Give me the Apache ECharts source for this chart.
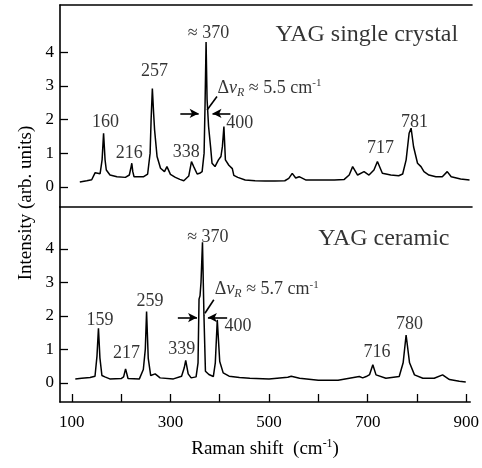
<!DOCTYPE html>
<html><head><meta charset="utf-8">
<script src="https://cdn.jsdelivr.net/npm/echarts@6/dist/echarts.min.js"></script>
<style>html,body{margin:0;padding:0;background:#fff}#c{width:482px;height:468px}</style>
</head><body><div id="c"></div>
<script>
// ---- data: YAG single crystal (top) ----
const shiftTop = [116,130,140,147,150,157,161,164,167,169.5,177,191,208,216,219,221,223,225.5,235,245,253,258,260,262.5,265,267,272,279,287,292,299,309,318,326,336,341.5,346,353,358,363,367,369,371,373,376,380,383,389,396,401,404,407,410,417,424,427,435,450,470,490,510,530,538,545,552,559,566,573,590,610,630,650,660,667,677,690,700,710,717,727,744,760,768,775,781,785,790,798,805,811,821,835,848,858,866,885,903];
const intensityTop = [0.14,0.18,0.21,0.42,0.45,0.39,0.8,1.59,0.8,0.5,0.35,0.3,0.28,0.35,0.55,0.70,0.45,0.3,0.3,0.3,0.38,1.0,2.0,2.92,2.2,1.69,0.9,0.55,0.45,0.6,0.37,0.28,0.22,0.18,0.32,0.75,0.6,0.38,0.4,0.45,1.0,2.5,4.3,2.6,1.8,1.2,0.7,0.6,0.8,0.9,1.2,1.79,0.8,0.64,0.54,0.34,0.28,0.2,0.18,0.17,0.17,0.18,0.25,0.4,0.26,0.3,0.25,0.2,0.2,0.2,0.2,0.22,0.35,0.6,0.35,0.45,0.35,0.5,0.75,0.4,0.35,0.33,0.38,0.8,1.59,1.74,1.19,0.7,0.6,0.45,0.35,0.3,0.3,0.45,0.3,0.23,0.2];
// ---- data: YAG ceramic (bottom) ----
const shiftBot = [107,120,137,147,151,154,157,161,167,177,200,205,209,214,237,245,249,251.6,255,260,269,279,306,322.6,328,331,336,342,352,356,358,360,362,365,368,371,378,387,391,395,400,407,419,440,461,500,538,545,562,600,640,683,690,697,704,710.5,717,737,764,772,778,785,795,812,835,852,866,886,899];
const intensityBot = [0.12,0.14,0.16,0.2,0.8,1.63,0.74,0.22,0.18,0.12,0.13,0.18,0.42,0.13,0.12,0.4,1.0,2.13,0.73,0.22,0.27,0.15,0.12,0.2,0.45,0.67,0.27,0.15,0.18,0.6,2.5,2.6,3.0,4.2,2.0,0.35,0.25,0.19,0.6,1.88,0.64,0.3,0.2,0.16,0.14,0.12,0.17,0.2,0.14,0.08,0.08,0.19,0.15,0.19,0.25,0.54,0.24,0.14,0.19,0.6,1.43,0.6,0.24,0.14,0.14,0.24,0.1,0.05,0.03];
// ---- tick values ----
const xTicks = [100,200,300,400,500,600,700,800,900];
const xTickLabels = [100,300,500,700,900];
const yTicks = [0,1,2,3,4];
// ---- annotations (text, shift, intensity) ----
const peakLabelsTop = ['160','216','257','338','400','717','781'];
const peakLabelTopX = [168,216,267,331,439,723,792];
const peakLabelTopY = [1.93,1.0,3.42,1.04,1.89,1.13,1.91];
const peakLabelsBot = ['159','217','259','339','400','716','780'];
const peakLabelBotX = [157,211,258.5,323,437,719,785];
const peakLabelBotY = [1.88,0.87,2.43,0.99,1.68,0.9,1.76];
const mainPeakTop = [376, 4.56], mainPeakBot = [376, 4.36];
const widthTop = '5.5', widthBot = '5.7';
const widthLabelTop = [394, 2.93], widthLabelBot = [390, 2.78];
const arrowsTop = [[319,356,2.18],[420,384,2.18]];
const arrowsBot = [[315,354,1.95],[415,376,1.95]];
const leaderTop = [[373,2.28],[393,2.68]];
const leaderBot = [[370,2.08],[388,2.48]];
const panelTitles = ['YAG single crystal','YAG ceramic'];
const panelTitlePos = [[880,4.53],[866,4.3]];

const FONT = 'Liberation Serif';
const XMIN = 76, XMAX = 908;
const chart = echarts.init(document.getElementById('c'), null, {renderer:'canvas'});
const axisLine = {show:true, onZero:false, lineStyle:{color:'#000', width:1.6}};

function xAxisDef(gi, bottom){
  return {type:'value', gridIndex:gi, min:XMIN, max:XMAX, position:'bottom',
    axisLine: axisLine, splitLine:{show:false},
    axisTick: bottom ? {show:true, inside:true, length:8, lineStyle:{color:'#000',width:1.3}, customValues:xTicks} : {show:false},
    axisLabel: bottom ? {show:true, customValues:xTickLabels, margin:12, color:'#000', fontFamily:FONT, fontSize:17} : {show:false},
    name: bottom ? '{a|Raman shift  (cm}{s|-1}{a|)}' : '', nameLocation:'middle', nameGap:36,
    nameTextStyle:{rich:{a:{fontFamily:FONT,fontSize:19,color:'#000'}, s:{fontFamily:FONT,fontSize:12,color:'#000',verticalAlign:'top',padding:[0,0,10,0]}}}
  };
}
function yAxisDef(gi, min, max){
  return {type:'value', gridIndex:gi, min:min, max:max, axisLine:axisLine, splitLine:{show:false},
    axisTick:{show:true, inside:true, length:8, lineStyle:{color:'#000',width:1.3}, customValues:yTicks},
    axisLabel:{show:true, customValues:yTicks, margin:6, color:'#000', fontFamily:FONT, fontSize:17}};
}
function textSeries(gi, items, fontSize, align){
  return {type:'scatter', xAxisIndex:gi===0?0:2, yAxisIndex:gi, symbolSize:0, silent:true,
    data: items.map(it => ({value:[it[1], it[2]], name:it[0]})),
    label:{show:true, position:'inside', formatter:p=>p.name, color:'#000', fontFamily:FONT, fontSize:fontSize, align:align||'center', verticalAlign:'middle'}};
}
function widthSeries(gi, pos, w){
  return {type:'scatter', xAxisIndex:gi===0?0:2, yAxisIndex:gi, symbolSize:0, silent:true,
    data:[{value:pos}],
    label:{show:true, position:'inside', align:'left', verticalAlign:'middle',
      formatter:'{a|Δ}{i|ν}{r|R}{a| ≈ '+w+' cm}{s|-1}',
      rich:{a:{fontFamily:FONT,fontSize:18,color:'#000'}, i:{fontFamily:FONT,fontSize:18,fontStyle:'italic',color:'#000'},
        r:{fontFamily:FONT,fontSize:12,fontStyle:'italic',color:'#000',verticalAlign:'bottom',padding:[8,0,0,0]},
        s:{fontFamily:FONT,fontSize:11,color:'#000',verticalAlign:'top',padding:[0,0,10,0]}}}};
}
function spectrum(gi, xs, ys, arrows, leader){
  return {type:'line', xAxisIndex:gi===0?0:2, yAxisIndex:gi, showSymbol:false, silent:true,
    data: xs.map((x,i)=>[x, ys[i]]), lineStyle:{color:'#000', width:1.5},
    markLine:{silent:true, animation:false, label:{show:false},
      data:[
        [{coord:[arrows[0][0],arrows[0][2]], symbol:'none'},{coord:[arrows[0][1],arrows[0][2]], symbol:'arrow', symbolSize:[7,9]}],
        [{coord:[arrows[1][0],arrows[1][2]], symbol:'none'},{coord:[arrows[1][1],arrows[1][2]], symbol:'arrow', symbolSize:[7,9]}],
        [{coord:leader[0], symbol:'none'},{coord:leader[1], symbol:'none'}]
      ],
      lineStyle:{color:'#000', width:1.6, type:'solid'}}};
}

const option = {
  animation:false,
  backgroundColor:'#fff',
  grid:[{left:60, top:5, width:412, height:202}, {left:60, top:207, width:412, height:195}],
  xAxis:[xAxisDef(0,false),
    {type:'value', gridIndex:0, min:XMIN, max:XMAX, position:'top', axisLine:axisLine, axisTick:{show:false}, axisLabel:{show:false}, splitLine:{show:false}},
    xAxisDef(1,true)],
  yAxis:[yAxisDef(0,-0.6,5.4), yAxisDef(1,-0.57,5.25)],
  graphic:[{type:'text', x:26, y:203, rotation:Math.PI/2,
    style:{text:'Intensity (arb. units)', fontFamily:FONT, fontSize:19, fill:'#000', align:'center', verticalAlign:'middle'}}],
  series:[
    spectrum(0, shiftTop, intensityTop, arrowsTop, leaderTop),
    spectrum(1, shiftBot, intensityBot, arrowsBot, leaderBot),
    textSeries(0, peakLabelsTop.map((t,i)=>[t,peakLabelTopX[i],peakLabelTopY[i]]), 18),
    textSeries(1, peakLabelsBot.map((t,i)=>[t,peakLabelBotX[i],peakLabelBotY[i]]), 18),
    textSeries(0, [['≈ 370', mainPeakTop[0], mainPeakTop[1]]], 18),
    textSeries(1, [['≈ 370', mainPeakBot[0], mainPeakBot[1]]], 18),
    textSeries(0, [[panelTitles[0], panelTitlePos[0][0], panelTitlePos[0][1]]], 24, 'right'),
    textSeries(1, [[panelTitles[1], panelTitlePos[1][0], panelTitlePos[1][1]]], 24, 'right'),
    widthSeries(0, widthLabelTop, widthTop),
    widthSeries(1, widthLabelBot, widthBot)
  ]
};
chart.setOption(option);
</script></body></html>
